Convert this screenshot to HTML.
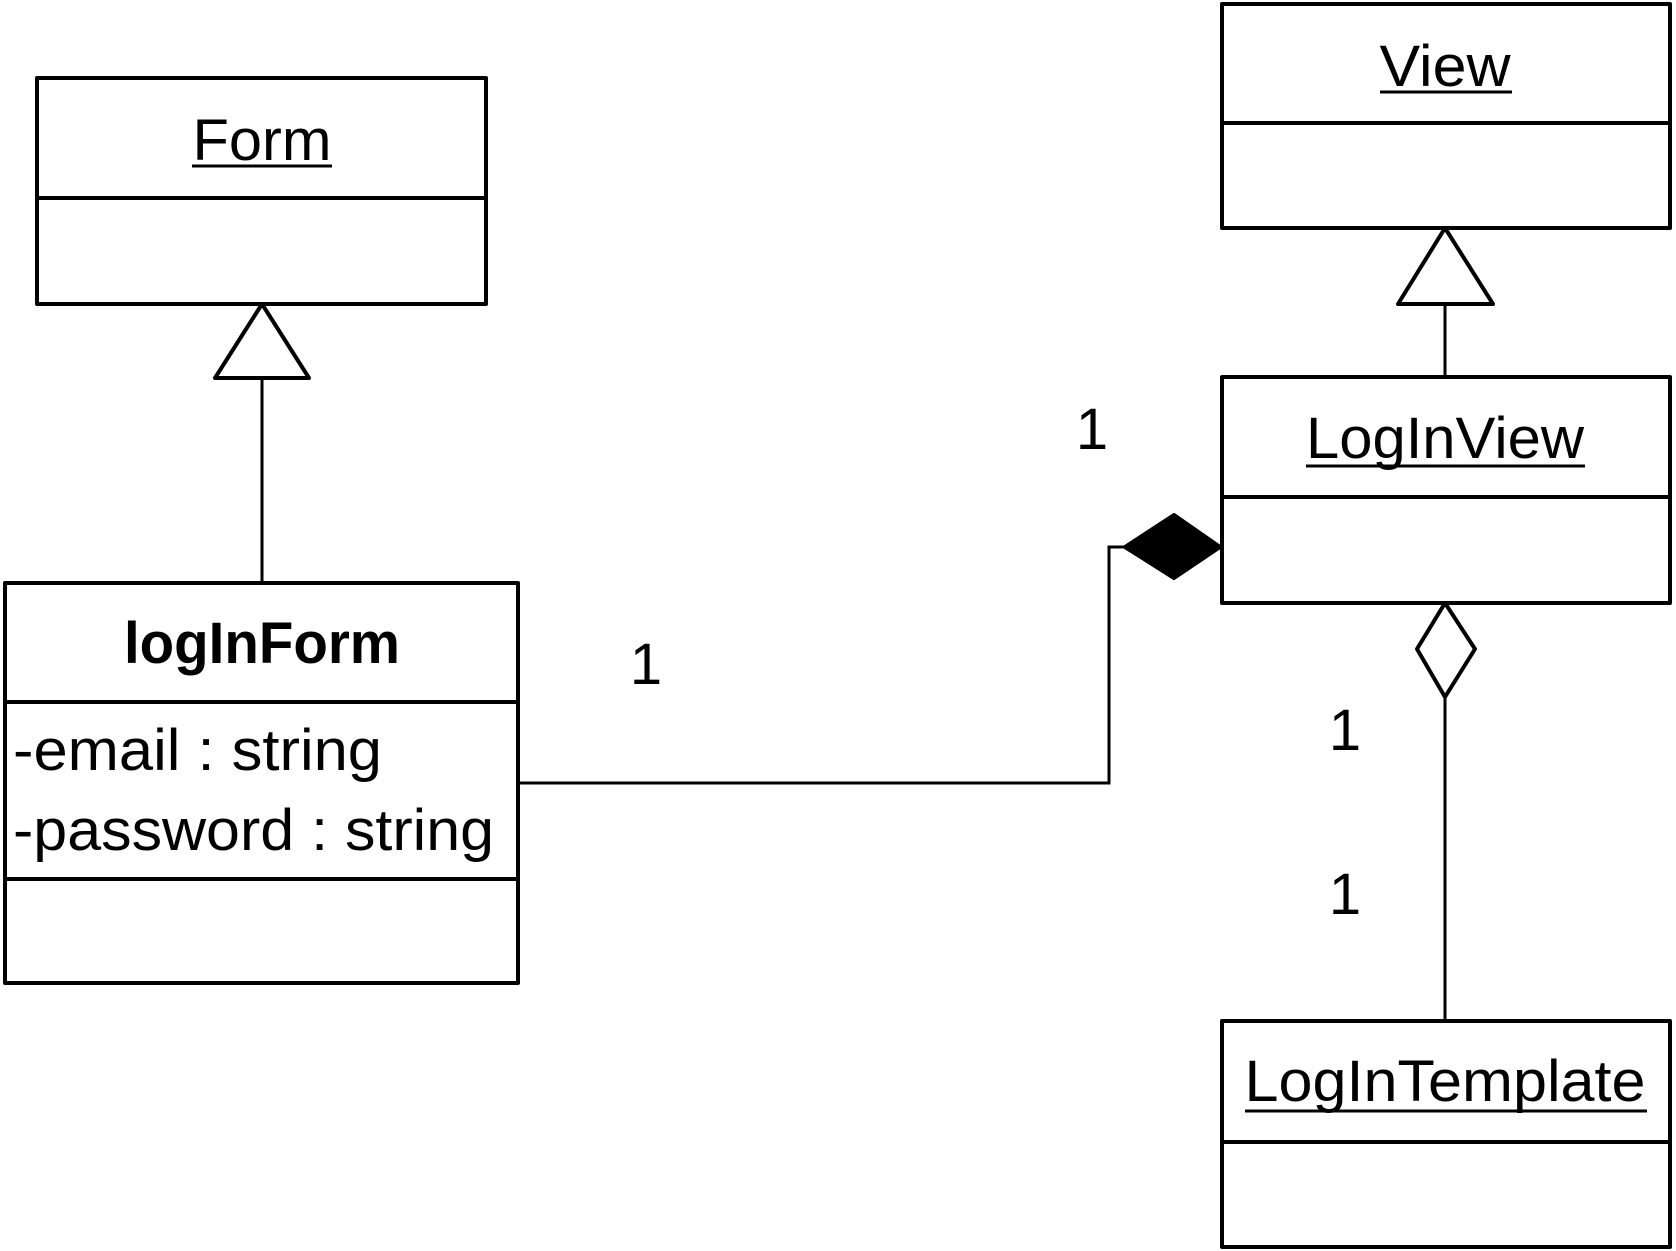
<!DOCTYPE html>
<html><head><meta charset="utf-8"><style>html,body{margin:0;padding:0;background:#fff}svg{display:block}</style></head>
<body>
<svg width="1676" height="1251" viewBox="0 0 1676 1251" xmlns="http://www.w3.org/2000/svg" font-family="Liberation Sans, sans-serif">
<g fill="#fff" stroke="#000" stroke-width="4" stroke-linejoin="round">
<rect x="37" y="78" width="449" height="226"/>
<line x1="37" y1="198" x2="486" y2="198"/>
<rect x="5" y="583" width="513" height="400"/>
<line x1="5" y1="702" x2="518" y2="702"/>
<line x1="5" y1="879" x2="518" y2="879"/>
<rect x="1222" y="4" width="448" height="224"/>
<line x1="1222" y1="123" x2="1670" y2="123"/>
<rect x="1222" y="377" width="448" height="226"/>
<line x1="1222" y1="497" x2="1670" y2="497"/>
<rect x="1222" y="1021" width="448" height="226"/>
<line x1="1222" y1="1142" x2="1670" y2="1142"/>
</g>
<g fill="none" stroke="#000" stroke-width="3">
<line x1="262" y1="378" x2="262" y2="583"/>
<line x1="1445" y1="304" x2="1445" y2="377"/>
<polyline points="518,783 1109,783 1109,547 1125,547"/>
<line x1="1445" y1="697" x2="1445" y2="1021"/>
</g>
<g stroke="#000" stroke-width="4" stroke-linejoin="round">
<polygon points="262,304 215,378 309,378" fill="#fff"/>
<polygon points="1445,228 1398,304 1493,304" fill="#fff"/>
<polygon points="1125,547 1174,515 1220,547 1174,578" fill="#000"/>
<polygon points="1445,603 1475,649 1445,697 1417,649" fill="#fff"/>
</g>
<g font-size="58" fill="#000">
<text x="262" y="160" text-anchor="middle" textLength="139" lengthAdjust="spacingAndGlyphs">Form</text>
<line x1="192" y1="166" x2="332" y2="166" stroke="#000" stroke-width="3"/>
<text x="262" y="663" text-anchor="middle" font-weight="bold" textLength="276" lengthAdjust="spacingAndGlyphs">logInForm</text>
<text x="13" y="770" textLength="369" lengthAdjust="spacingAndGlyphs">-email : string</text>
<text x="13" y="850" textLength="481" lengthAdjust="spacingAndGlyphs">-password : string</text>
<text x="1445" y="86" text-anchor="middle" textLength="131" lengthAdjust="spacingAndGlyphs">View</text>
<line x1="1380" y1="92" x2="1512" y2="92" stroke="#000" stroke-width="3"/>
<text x="1445" y="458" text-anchor="middle" textLength="278" lengthAdjust="spacingAndGlyphs">LogInView</text>
<line x1="1306" y1="466" x2="1585" y2="466" stroke="#000" stroke-width="3"/>
<text x="1445" y="1101" text-anchor="middle" textLength="401" lengthAdjust="spacingAndGlyphs">LogInTemplate</text>
<line x1="1245" y1="1111" x2="1647" y2="1111" stroke="#000" stroke-width="3"/>
<text x="1092" y="449" text-anchor="middle">1</text>
<text x="646" y="684" text-anchor="middle">1</text>
<text x="1345" y="750" text-anchor="middle">1</text>
<text x="1345" y="914" text-anchor="middle">1</text>
</g>
</svg>
</body></html>
